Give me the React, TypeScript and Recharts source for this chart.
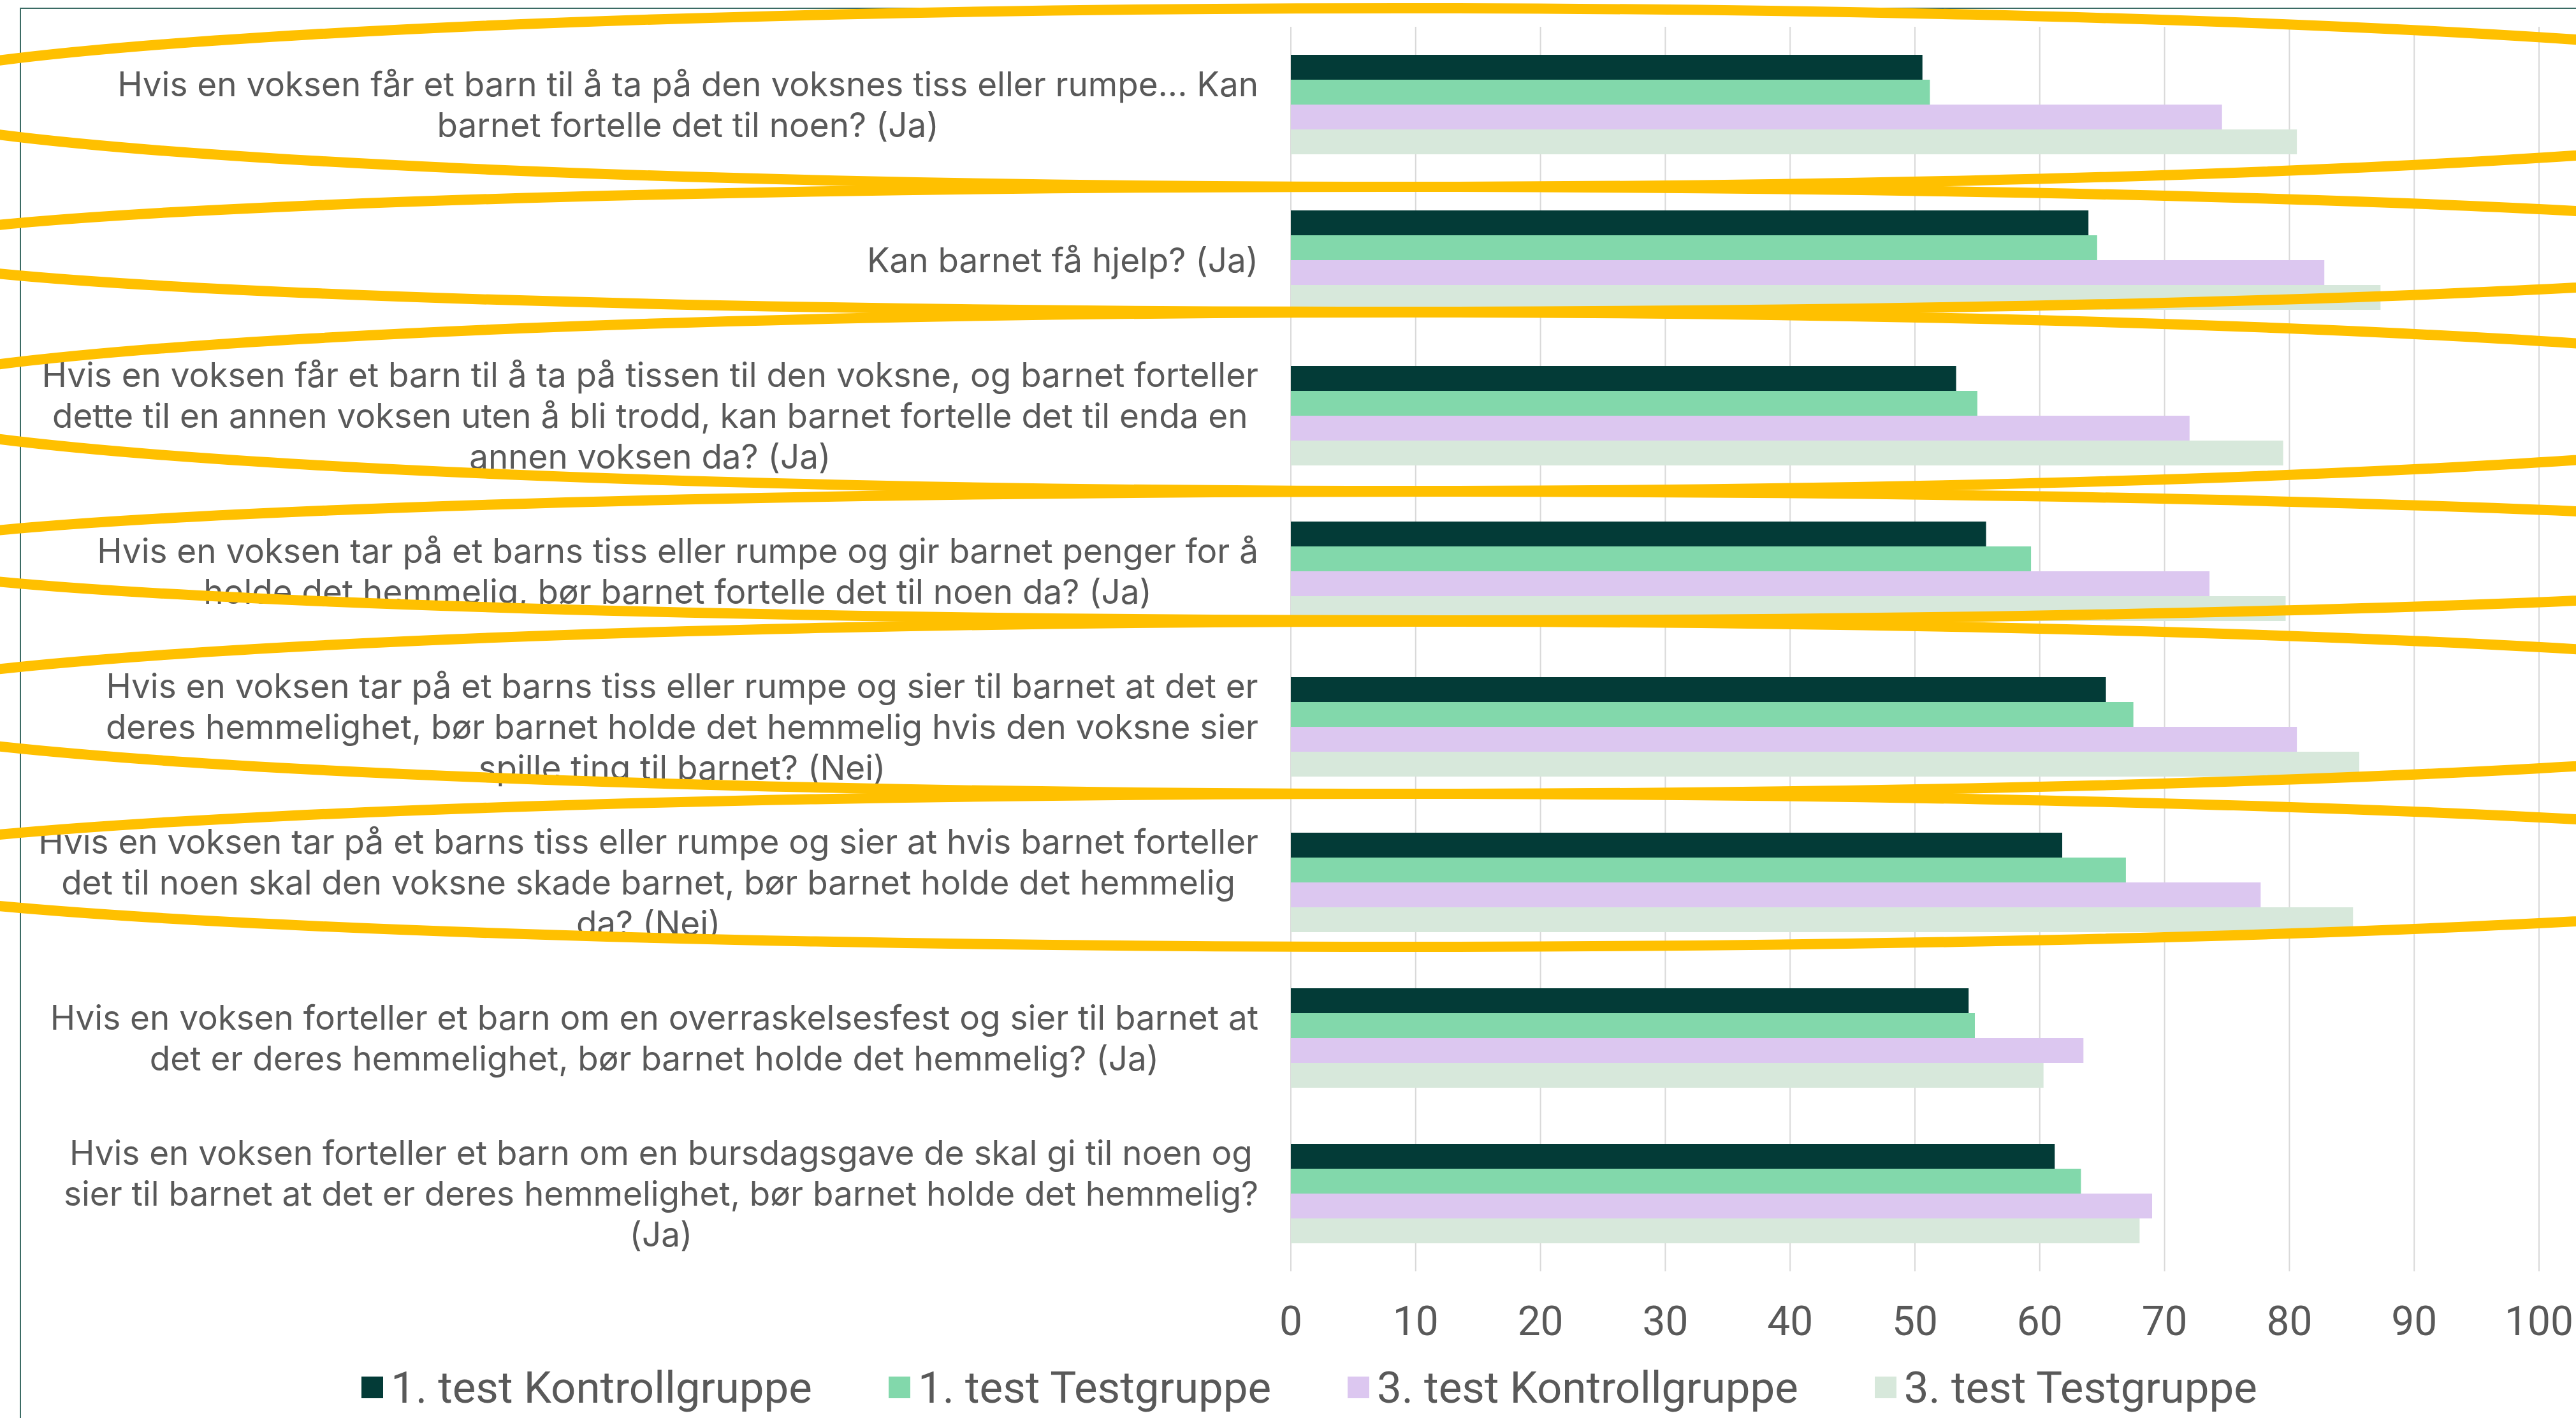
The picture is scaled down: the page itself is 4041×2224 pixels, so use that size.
import React from 'react';
import { BarChart, Bar, XAxis, YAxis, CartesianGrid, Legend } from 'recharts';

// questions (line breaks as in the original wrapped labels)
const categories = [
  'Hvis en voksen får et barn til å ta på den voksnes tiss eller rumpe... Kan\nbarnet fortelle det til noen? (Ja)',
  'Kan barnet få hjelp? (Ja)',
  'Hvis en voksen får et barn til å ta på tissen til den voksne, og barnet forteller\ndette til en annen voksen uten å bli trodd, kan barnet fortelle det til enda en\nannen voksen da? (Ja)',
  'Hvis en voksen tar på et barns tiss eller rumpe og gir barnet penger for å\nholde det hemmelig, bør barnet fortelle det til noen da? (Ja)',
  'Hvis en voksen tar på et barns tiss eller rumpe og sier til barnet at det er\nderes hemmelighet, bør barnet holde det hemmelig hvis den voksne sier\nspille ting til barnet? (Nei)',
  'Hvis en voksen tar på et barns tiss eller rumpe og sier at hvis barnet forteller\ndet til noen skal den voksne skade barnet, bør barnet holde det hemmelig\nda? (Nei)',
  'Hvis en voksen forteller et barn om en overraskelsesfest og sier til barnet at\ndet er deres hemmelighet, bør barnet holde det hemmelig? (Ja)',
  'Hvis en voksen forteller et barn om en bursdagsgave de skal gi til noen og\nsier til barnet at det er deres hemmelighet, bør barnet holde det hemmelig?\n(Ja)',
];

const kontroll1 = [50.6, 63.9, 53.3, 55.7, 65.3, 61.8, 54.3, 61.2];
const test1 = [51.2, 64.6, 55.0, 59.3, 67.5, 66.9, 54.8, 63.3];
const kontroll3 = [74.6, 82.8, 72.0, 73.6, 80.6, 77.7, 63.5, 69.0];
const test3 = [80.6, 87.3, 79.5, 79.7, 85.6, 85.1, 60.3, 68.0];

const xTicks = [0, 10, 20, 30, 40, 50, 60, 70, 80, 90, 100];

const series = [
  { key: 'k1', name: '1. test Kontrollgruppe', color: '#033b37' },
  { key: 't1', name: '1. test Testgruppe', color: '#82d8ab' },
  { key: 'k3', name: '3. test Kontrollgruppe', color: '#dcc7f0' },
  { key: 't3', name: '3. test Testgruppe', color: '#d7e8db' },
];

// hand drawn yellow rings on top of the chart (annotation, not data)
const rings = [
  { cx: 2200, cy: 153, rx: 2420, ry: 140 },
  { cx: 2174, cy: 391, rx: 2363, ry: 98 },
  { cx: 2203, cy: 630, rx: 2428, ry: 140 },
  { cx: 2263, cy: 872, rx: 2470, ry: 101 },
  { cx: 2219, cy: 1110, rx: 2485, ry: 135 },
  { cx: 2193, cy: 1365, rx: 2481, ry: 120 },
];

const data = categories.map((label, i) => ({
  label,
  k1: kontroll1[i],
  t1: test1[i],
  k3: kontroll3[i],
  t3: test3[i],
}));

const FONT = 'Roboto, sans-serif';
const LABEL_FONT = 'Inter';
const GREY = '#595959';
const LABEL_SIZE = 53;
const LINE_H = 64;

let ctx: CanvasRenderingContext2D | null = null;
const measure = (s: string) => {
  if (!ctx) ctx = document.createElement('canvas').getContext('2d');
  if (!ctx) return s.length * LABEL_SIZE * 0.52;
  ctx.font = `${LABEL_SIZE}px ${LABEL_FONT}`;
  return ctx.measureText(s).width;
};

const CategoryTick = (props: any) => {
  const { x, y, payload } = props;
  const lines = String(payload.value).split('\n');
  const blockW = Math.max(...lines.map(measure));
  const cx = x - blockW / 2;
  const top = y - ((lines.length - 1) * LINE_H) / 2;
  return (
    <text textAnchor="middle" fontFamily={LABEL_FONT} fontSize={LABEL_SIZE} fill={GREY}>
      {lines.map((l, i) => (
        <tspan key={i} x={cx} y={top + i * LINE_H} dy="0.36em">
          {l}
        </tspan>
      ))}
    </text>
  );
};

const LegendContent = (props: any) => {
  const { payload } = props;
  return (
    <div
      style={{
        height: 80,
        paddingBottom: 16,
        boxSizing: 'border-box',
        display: 'flex',
        justifyContent: 'center',
        alignItems: 'center',
        paddingLeft: 125,
        gap: 120,
        fontFamily: FONT,
        fontSize: 69,
        color: GREY,
      }}
    >
      {(payload || []).map((p: any) => (
        <div key={p.value} style={{ display: 'flex', alignItems: 'center' }}>
          <span style={{ width: 34, height: 34, background: p.color, marginRight: 12, display: 'inline-block' }} />
          {p.value}
        </div>
      ))}
    </div>
  );
};

export default function App() {
  return (
    <div style={{ position: 'absolute', left: 0, top: 0, width: 4041, height: 2224, overflow: 'hidden', background: '#fff' }}>
      <div
        style={{
          position: 'absolute',
          left: 31,
          top: 12,
          width: 5000,
          height: 5000,
          borderLeft: '2px solid #3b6b64',
          borderTop: '2px solid #3b6b64',
        }}
      />
      <BarChart
        width={4041}
        height={2224}
        data={data}
        layout="vertical"
        margin={{ top: 42, right: 58, bottom: 0, left: 0 }}
        barCategoryGap="18%"
        barGap={0}
      >
        <CartesianGrid horizontal={false} stroke="#d9d9d9" strokeWidth={2} />
        <XAxis
          type="number"
          domain={[0, 100]}
          ticks={xTicks}
          interval={0}
          height={150}
          axisLine={false}
          tickLine={false}
          tickMargin={49}
          tick={{ fontFamily: FONT, fontSize: 64, fill: GREY }}
        />
        <YAxis
          type="category"
          dataKey="label"
          width={2025}
          axisLine={false}
          tickLine={false}
          tickMargin={45}
          interval={0}
          tick={<CategoryTick />}
        />
        <Legend verticalAlign="bottom" content={<LegendContent />} />
        {series.map((s) => (
          <Bar key={s.key} dataKey={s.key} name={s.name} fill={s.color} isAnimationActive={false} />
        ))}
      </BarChart>
      <svg width={4041} height={2224} style={{ position: 'absolute', left: 0, top: 0, pointerEvents: 'none' }}>
        {rings.map((r, i) => (
          <ellipse key={i} cx={r.cx} cy={r.cy} rx={r.rx} ry={r.ry} fill="none" stroke="#ffc000" strokeWidth={16} />
        ))}
      </svg>
    </div>
  );
}
